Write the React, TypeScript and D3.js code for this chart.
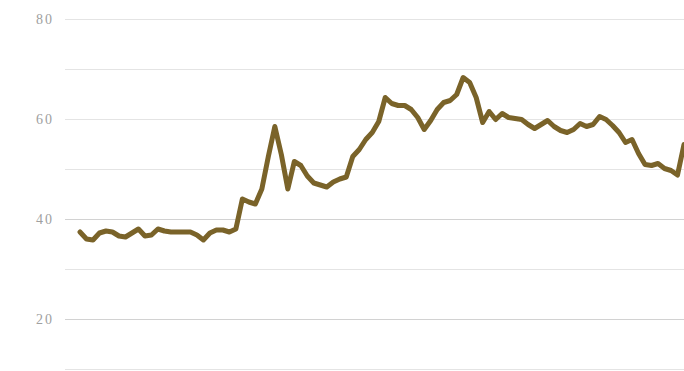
import React from "react";
import * as d3 from "d3";

const values: number[] = [
  37.4, 36.0, 35.8, 37.2, 37.6, 37.4, 36.6, 36.4, 37.2, 38.0,
  36.6, 36.8, 38.0, 37.6, 37.4, 37.4, 37.4, 37.4, 36.8, 35.8,
  37.2, 37.8, 37.8, 37.4, 38.0, 44.0, 43.4, 43.0, 46.0, 52.5,
  58.5, 52.9, 46.0, 51.5, 50.7, 48.6, 47.2, 46.8, 46.4, 47.4,
  48.0, 48.4, 52.5, 53.9, 55.9, 57.3, 59.5, 64.3, 63.1, 62.7,
  62.7, 61.9, 60.3, 57.9, 59.7, 61.9, 63.3, 63.7, 64.9, 68.3,
  67.3, 64.3, 59.3, 61.5, 59.9, 61.1, 60.3, 60.1, 59.9, 58.9,
  58.1, 58.9, 59.7, 58.5, 57.7, 57.3, 57.9, 59.1, 58.5, 58.9,
  60.5, 59.9, 58.7, 57.3, 55.3, 55.9, 53.1, 50.9, 50.7, 51.1,
  50.1, 49.7, 48.8, 54.9,
];

const gridValues: number[] = [80, 70, 60, 50, 40, 30, 20, 10];
const tickLabels: number[] = [80, 60, 40, 20];

const W = 684;
const H = 371;

export default function App() {
  const x = d3.scaleLinear().domain([0, values.length - 1]).range([80, 684]);
  const y = d3.scaleLinear().domain([10, 80]).range([369, 19]);
  const line = d3
    .line<number>()
    .x((_, i) => x(i))
    .y((d) => y(d))
    .curve(d3.curveLinear);

  return (
    <svg
      width={W}
      height={H}
      style={{ position: "absolute", left: 0, top: 0, background: "#fff" }}
    >
      {gridValues.map((g) => (
        <line
          key={g}
          x1={65}
          x2={W}
          y1={Math.round(y(g)) + 0.5}
          y2={Math.round(y(g)) + 0.5}
          stroke={g % 20 === 0 && g <= 40 ? "#d2d2d2" : "#e4e4e4"}
          strokeWidth={1}
        />
      ))}
      {tickLabels.map((t) => (
        <text
          key={t}
          x={54}
          y={y(t)}
          dy="0.35em"
          textAnchor="end"
          fontFamily="'Liberation Serif', 'DejaVu Serif', serif"
          fontSize={14}
          fill="#a0a0a0"
          letterSpacing={2}
        >
          {t}
        </text>
      ))}
      <path
        d={line(values) || ""}
        fill="none"
        stroke="#7a6329"
        strokeWidth={5}
        strokeLinejoin="round"
        strokeLinecap="round"
      />
    </svg>
  );
}
